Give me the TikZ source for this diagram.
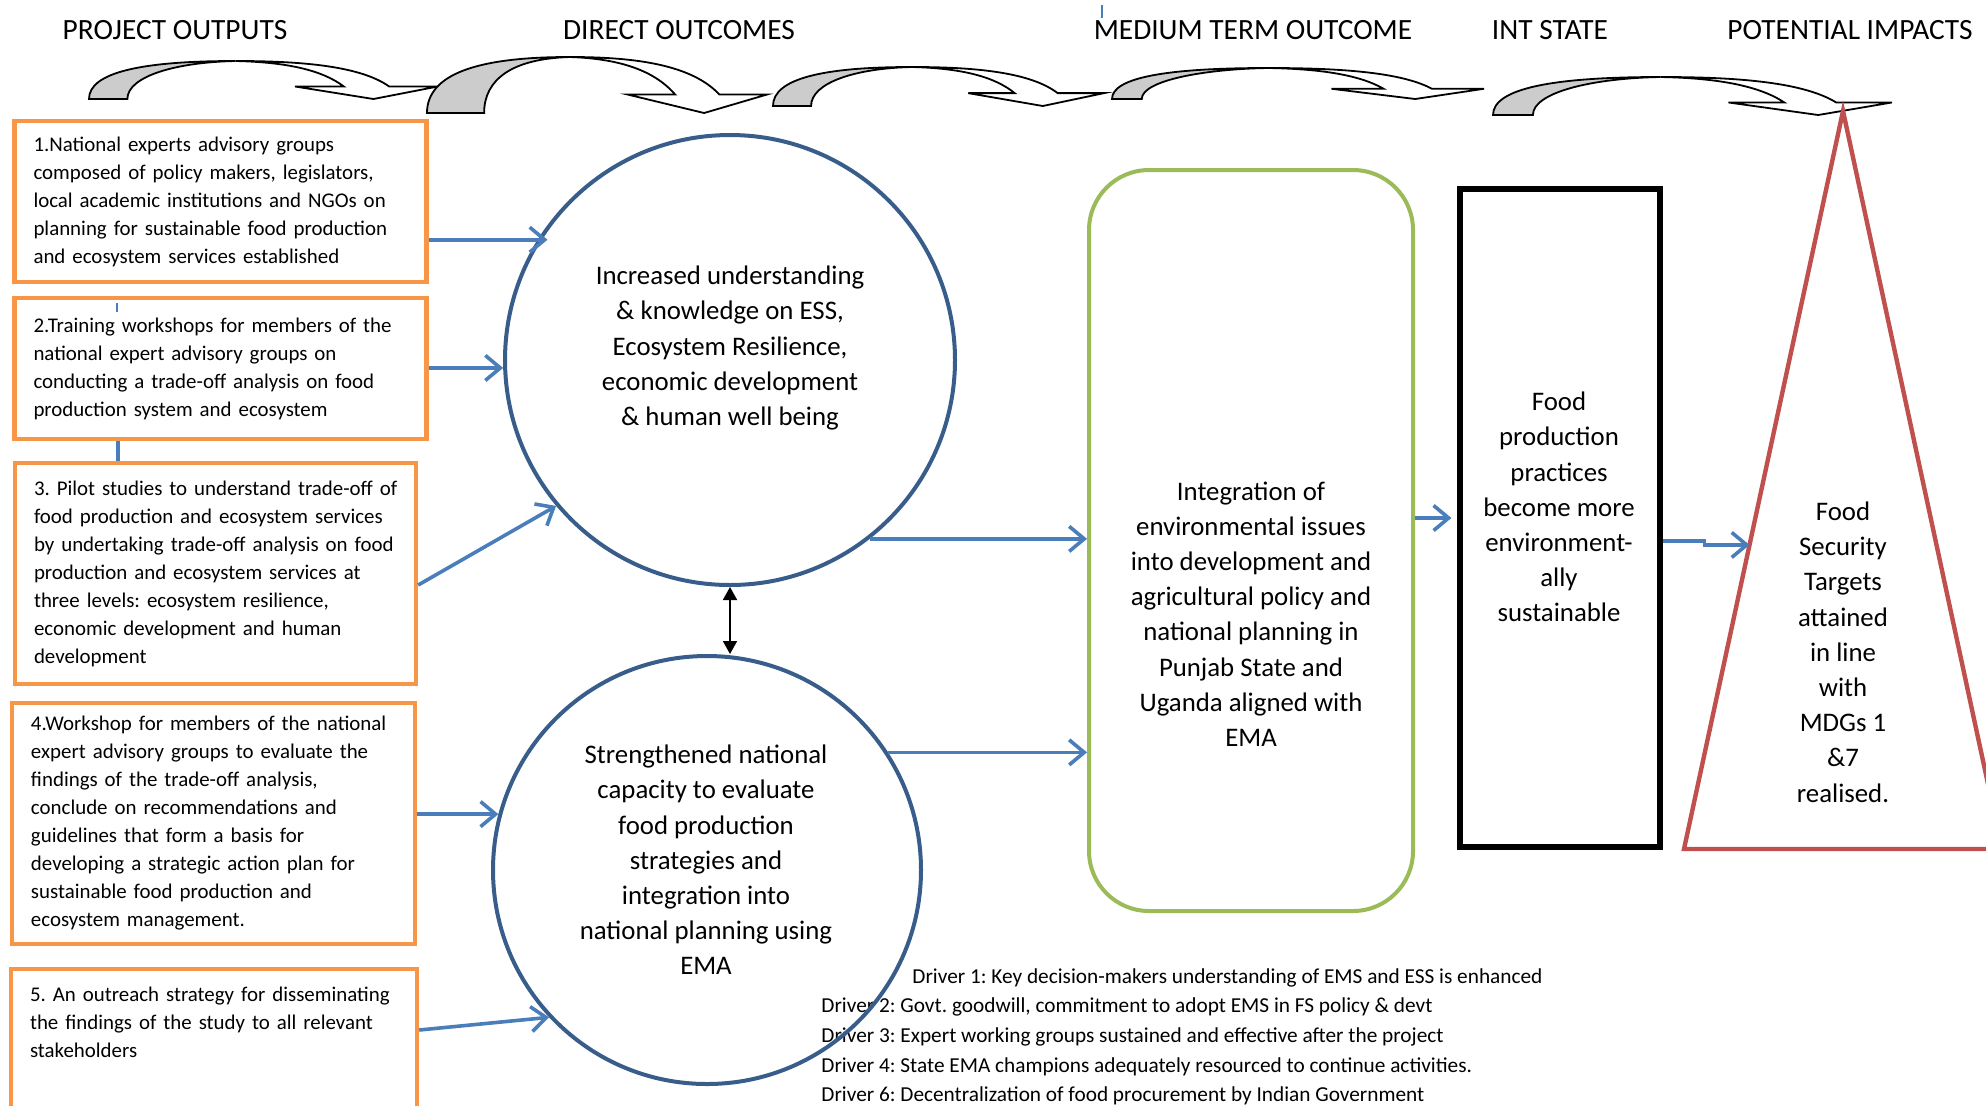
\documentclass[tikz,border=0pt]{standalone}
\usepackage{fontspec}
\setmainfont{Carlito}
\usepackage{xcolor}
\usetikzlibrary{positioning,arrows.meta,calc}
\frenchspacing

\definecolor{outorange}{HTML}{F79646}
\definecolor{ringblue}{HTML}{385D8A}
\definecolor{flowblue}{HTML}{4A7EBB}
\definecolor{integgreen}{HTML}{9BBB59}
\definecolor{impred}{HTML}{C0504D}
\definecolor{bendgray}{HTML}{CCCCCC}

\newcommand{\boxfont}{\fontsize{10.45}{14}\selectfont}
\newcommand{\ringfont}{\fontsize{13.4}{17.6}\selectfont}
\newcommand{\midfont}{\fontsize{13.4}{17.6}\selectfont}

% curved block arrow over the column headings:
% #1 left x of tail, #2 base y, #3 width, #4 height, #5 tail width (fraction)
\newcommand{\topbend}[5]{%
  \begin{scope}[shift={(#1,#2)}, xscale=#3, yscale=-#4]
    \filldraw[bendarrow, fill=bendgray] (0,0) .. controls (0,0.7) and (0.15,1) .. (0.42,1)
      .. controls (0.25,0.97) and (#5,0.6) .. (#5,0) -- cycle;
    \filldraw[bendarrow, fill=white] (0.42,1) .. controls (0.62,1) and (0.78,0.85) .. (0.86,0.33)
      -- (1,0.33) -- (0.815,0) -- (0.59,0.33) -- (0.73,0.33)
      .. controls (0.67,0.75) and (0.57,0.97) .. (0.42,1) -- cycle;
  \end{scope}}

\begin{document}
\begin{tikzpicture}[x=0.5pt, y=-0.5pt,
  heading/.style={font=\fontsize{14.7}{17}\selectfont},
  bendarrow/.style={draw=black, line width=0.9pt},
  outbox/.style={draw=outorange, line width=2.2pt, align=left, inner xsep=9.5pt, inner ysep=0pt, font=\boxfont},
  ring/.style={circle, draw=ringblue, line width=2pt, inner sep=0pt},
  ringtext/.style={align=center, font=\ringfont},
  midtext/.style={align=center, font=\midfont},
  driver/.style={anchor=west, inner xsep=0pt, font=\fontsize{10.65}{12}\selectfont},
  flow/.style={draw=flowblue, line width=1.8pt, -{Straight Barb[length=7.5pt,width=12.5pt]}},
  both/.style={draw=black, line width=0.9pt, {Triangle[length=6.5pt,width=7pt]}-{Triangle[length=6.5pt,width=7pt]}}
]
\clip (0,0) rectangle (1986,1105);

% column headings
\node[heading] (hOut) at (175,30) {PROJECT OUTPUTS};
\node[heading] (hDir) at (679,30) {DIRECT OUTCOMES};
\node[heading] (hMed) at (1253,30) {MEDIUM TERM OUTCOME};
\node[heading] (hInt) at (1550,30) {INT STATE};
\node[heading] (hImp) at (1850,30) {POTENTIAL IMPACTS};
\draw[flowblue, line width=0.6pt] (1102,5) -- (1102,18);

% block arrows between the columns
\topbend{89}{99}{349}{38}{0.11}
\topbend{427}{113}{340}{56}{0.168}
\topbend{773}{106}{331}{39}{0.115}
\topbend{1112}{99}{372}{31}{0.08}
\topbend{1493}{115}{399}{38}{0.10}

% project outputs
\node[outbox, text width=187pt, minimum height=80.5pt] (out1) at (220.5,201.5) {1.National experts advisory groups\\ composed of policy makers, legislators,\\ local academic institutions and NGOs on\\ planning for sustainable food production\\ and ecosystem services established};
\node[outbox, text width=187pt, minimum height=70.5pt] (out2) at (220.5,368.5) {2.Training workshops for members of the\\ national expert advisory groups on\\ conducting a trade-off analysis on food\\ production system and ecosystem};
\node[outbox, text width=181.5pt, minimum height=110.5pt] (out3) at (215.5,573.5) {\makebox[\linewidth][l]{3. Pilot studies to understand trade-off of}\\ food production and ecosystem services\\ by undertaking trade-off analysis on food\\ production and ecosystem services at\\ three levels: ecosystem resilience,\\ economic development and human\\ development};
\node[outbox, text width=182.5pt, minimum height=120.5pt] (out4) at (213.5,823.5) {4.Workshop for members of the national\\ expert advisory groups to evaluate the\\ findings of the trade-off analysis,\\ conclude on recommendations and\\ guidelines that form a basis for\\ developing a strategic action plan for\\ sustainable food production and\\ ecosystem management.};
\node[outbox, text width=184pt, minimum height=85pt] (out5) at (214,1054) {5. An outreach strategy for disseminating\\ the findings of the study to all relevant\\ stakeholders\\ \strut\\ \strut};
\draw[flowblue, line width=2pt] ([xshift=-51.5pt]out2.south) -- ([xshift=-51.5pt]out2.south |- out3.north);
\draw[flowblue, line width=0.6pt] (117,303) -- (117,312);

% drivers
\node[driver] (drv1) at (912,978) {Driver 1: Key decision-makers understanding of EMS and ESS is enhanced};
\node[driver] (drv2) at (821,1007) {Driver 2: Govt. goodwill, commitment to adopt EMS in FS policy \& devt};
\node[driver] (drv3) at (821,1037) {Driver 3: Expert working groups sustained and effective after the project};
\node[driver] (drv4) at (821,1067) {Driver 4: State EMA champions adequately resourced to continue activities.};
\node[driver] (drv6) at (821,1096) {Driver 6: Decentralization of food procurement by Indian Government};

% direct outcomes
\node[ring, minimum size=225pt] (ctr1) at (730,360) {};
\node[ringtext] (ctr1txt) at (730,348) {Increased understanding\\ \& knowledge on ESS,\\ Ecosystem Resilience,\\ economic development\\ \& human well being};
\node[ring, minimum size=214pt] (ctr2) at (707,870) {};
\node[ringtext] (ctr2txt) at (706,860) {Strengthened national\\ capacity to evaluate\\ food production\\ strategies and\\ integration into\\ national planning using\\ EMA};

% medium term outcome
\node[draw=integgreen, line width=2pt, rounded corners=30pt, minimum width=162pt, minimum height=370.5pt] (integ) at (1251,540.5) {};
\node[midtext] (integtxt) at (1251,614) {Integration of\\ environmental issues\\ into development and\\ agricultural policy and\\ national planning in\\ Punjab State and\\ Uganda aligned with\\ EMA};

% intermediate state
\node[draw=black, line width=2.6pt, minimum width=100pt, minimum height=329pt] (state) at (1560,518) {};
\node[midtext] (statetxt) at (1559,507) {Food\\ production\\ practices\\ become more\\ environment-\\ ally\\ sustainable};

% impact triangle
\coordinate (apex) at (1843,111);
\coordinate (baseL) at (1684,849);
\coordinate (baseR) at (2002,849);
\coordinate (impin) at ($(apex)!0.588!(baseL)$);
\draw[impred, line width=2.2pt] (apex) -- (baseL) -- (baseR) -- cycle;
\node[midtext] (imptxt) at (1843,652) {Food\\ Security\\ Targets\\ attained\\ in line\\ with\\ MDGs 1\\ \&7\\ realised.};

% arrows
\draw[flow, shorten >=-5pt] (out1.east |- ctr1.148) -- (ctr1.148);
\draw[flow] (out2.east |- ctr1.182) -- (ctr1.182);
\draw[flow] ([yshift=-5.75pt]out3.east) -- (ctr1.220);
\draw[flow] (out4.east |- ctr2.165) -- (ctr2.165);
\draw[flow] ([yshift=12pt]out5.east) -- (ctr2.223);
\draw[flow] (ctr1.308) -- (ctr1.308 -| integ.west);
\draw[flow] (ctr2.33) -- (ctr2.33 -| integ.west);
\draw[flow, shorten >=3pt] (integ.east |- state.west) -- (state.west);
\draw[flow] ([yshift=-11.5pt]state.east) -- ++(42,0) |- (impin);
\draw[both] (ctr1.south) -- (ctr1.south |- ctr2.north);

\end{tikzpicture}
\end{document}
